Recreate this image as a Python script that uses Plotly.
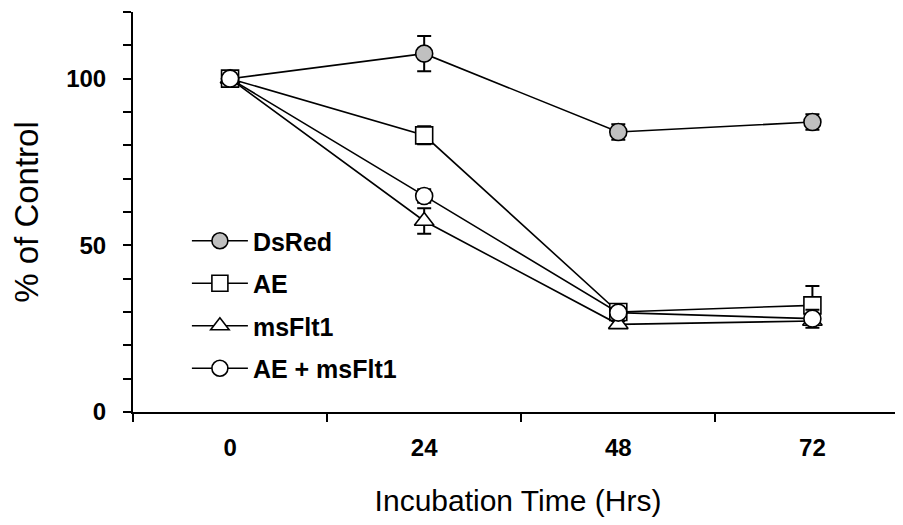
import plotly.graph_objects as go

hours = [0, 24, 48, 72]
x_tick_labels = ["0", "24", "48", "72"]

series_names = ["DsRed", "AE", "msFlt1", "AE + msFlt1"]
dsred = [100, 107.5, 84, 87]
dsred_err = [0, 5.3, 2.3, 2.3]
ae = [100, 83, 30, 32]
ae_err = [0, 2.7, 1, 5.8]
msflt1 = [100, 57.3, 26.3, 27.3]
msflt1_err = [0, 3.8, 1, 1]
ae_msflt1 = [100, 64.8, 29.8, 28]
ae_msflt1_err = [0, 2, 1, 2.7]

values = [dsred, ae, msflt1, ae_msflt1]
errors = [dsred_err, ae_err, msflt1_err, ae_msflt1_err]
symbols = ["circle", "square", "triangle-up", "circle"]
fills = ["#c0c0c0", "white", "white", "white"]

fig = go.Figure()
for name, y, e, sym, fc in zip(series_names, values, errors, symbols, fills):
    fig.add_trace(go.Scatter(
        x=hours, y=y, name=name, mode="lines+markers",
        legendgroup=name,
        line=dict(color="black", width=1.6),
        marker=dict(symbol=sym, size=17, color=fc, line=dict(color="black", width=1.6)),
        error_y=dict(type="data", array=e, visible=True, color="black", thickness=2, width=7),
    ))

tick_font = dict(family="Liberation Sans, Arial, sans-serif", size=24, color="black", weight="bold")

fig.update_layout(
    width=903, height=525,
    margin=dict(l=125, r=8, t=4, b=121),
    paper_bgcolor="white", plot_bgcolor="white",
    showlegend=True,
    legend=dict(
        x=0.070, y=0.485, xanchor="left", yanchor="top",
        font=dict(family="Liberation Sans, Arial, sans-serif", size=25, color="black", weight="bold"),
        bgcolor="rgba(0,0,0,0)", itemwidth=56, tracegroupgap=7,
    ),
    xaxis=dict(
        range=[-12, 83.2], showgrid=False, zeroline=False, automargin=False,
        showline=True, linecolor="black", linewidth=2,
        tickmode="array", tickvals=hours, ticktext=x_tick_labels,
        ticks="", tickfont=tick_font, ticklabelstandoff=13,
        minor=dict(tickmode="linear", tick0=-12, dtick=24, ticks="outside", ticklen=8,
                   tickwidth=2, tickcolor="black", showgrid=False),
        title=dict(text="Incubation Time (Hrs)",
                   font=dict(family="Liberation Sans, Arial, sans-serif", size=30, color="black"),
                   standoff=30),
    ),
    yaxis=dict(
        range=[0, 120], showgrid=False, zeroline=False, automargin=False,
        showline=True, linecolor="black", linewidth=2,
        tickmode="array", tickvals=[0, 50, 100],
        ticks="outside", ticklen=8, tickwidth=2, tickcolor="black",
        tickfont=tick_font, ticklabelstandoff=12,
        minor=dict(tickmode="linear", tick0=0, dtick=10, ticks="outside", ticklen=8,
                   tickwidth=2, tickcolor="black", showgrid=False),
        title=dict(text="% of Control",
                   font=dict(family="Liberation Sans, Arial, sans-serif", size=33, color="black"),
                   standoff=25),
    ),
)

fig.write_html("out.html")
